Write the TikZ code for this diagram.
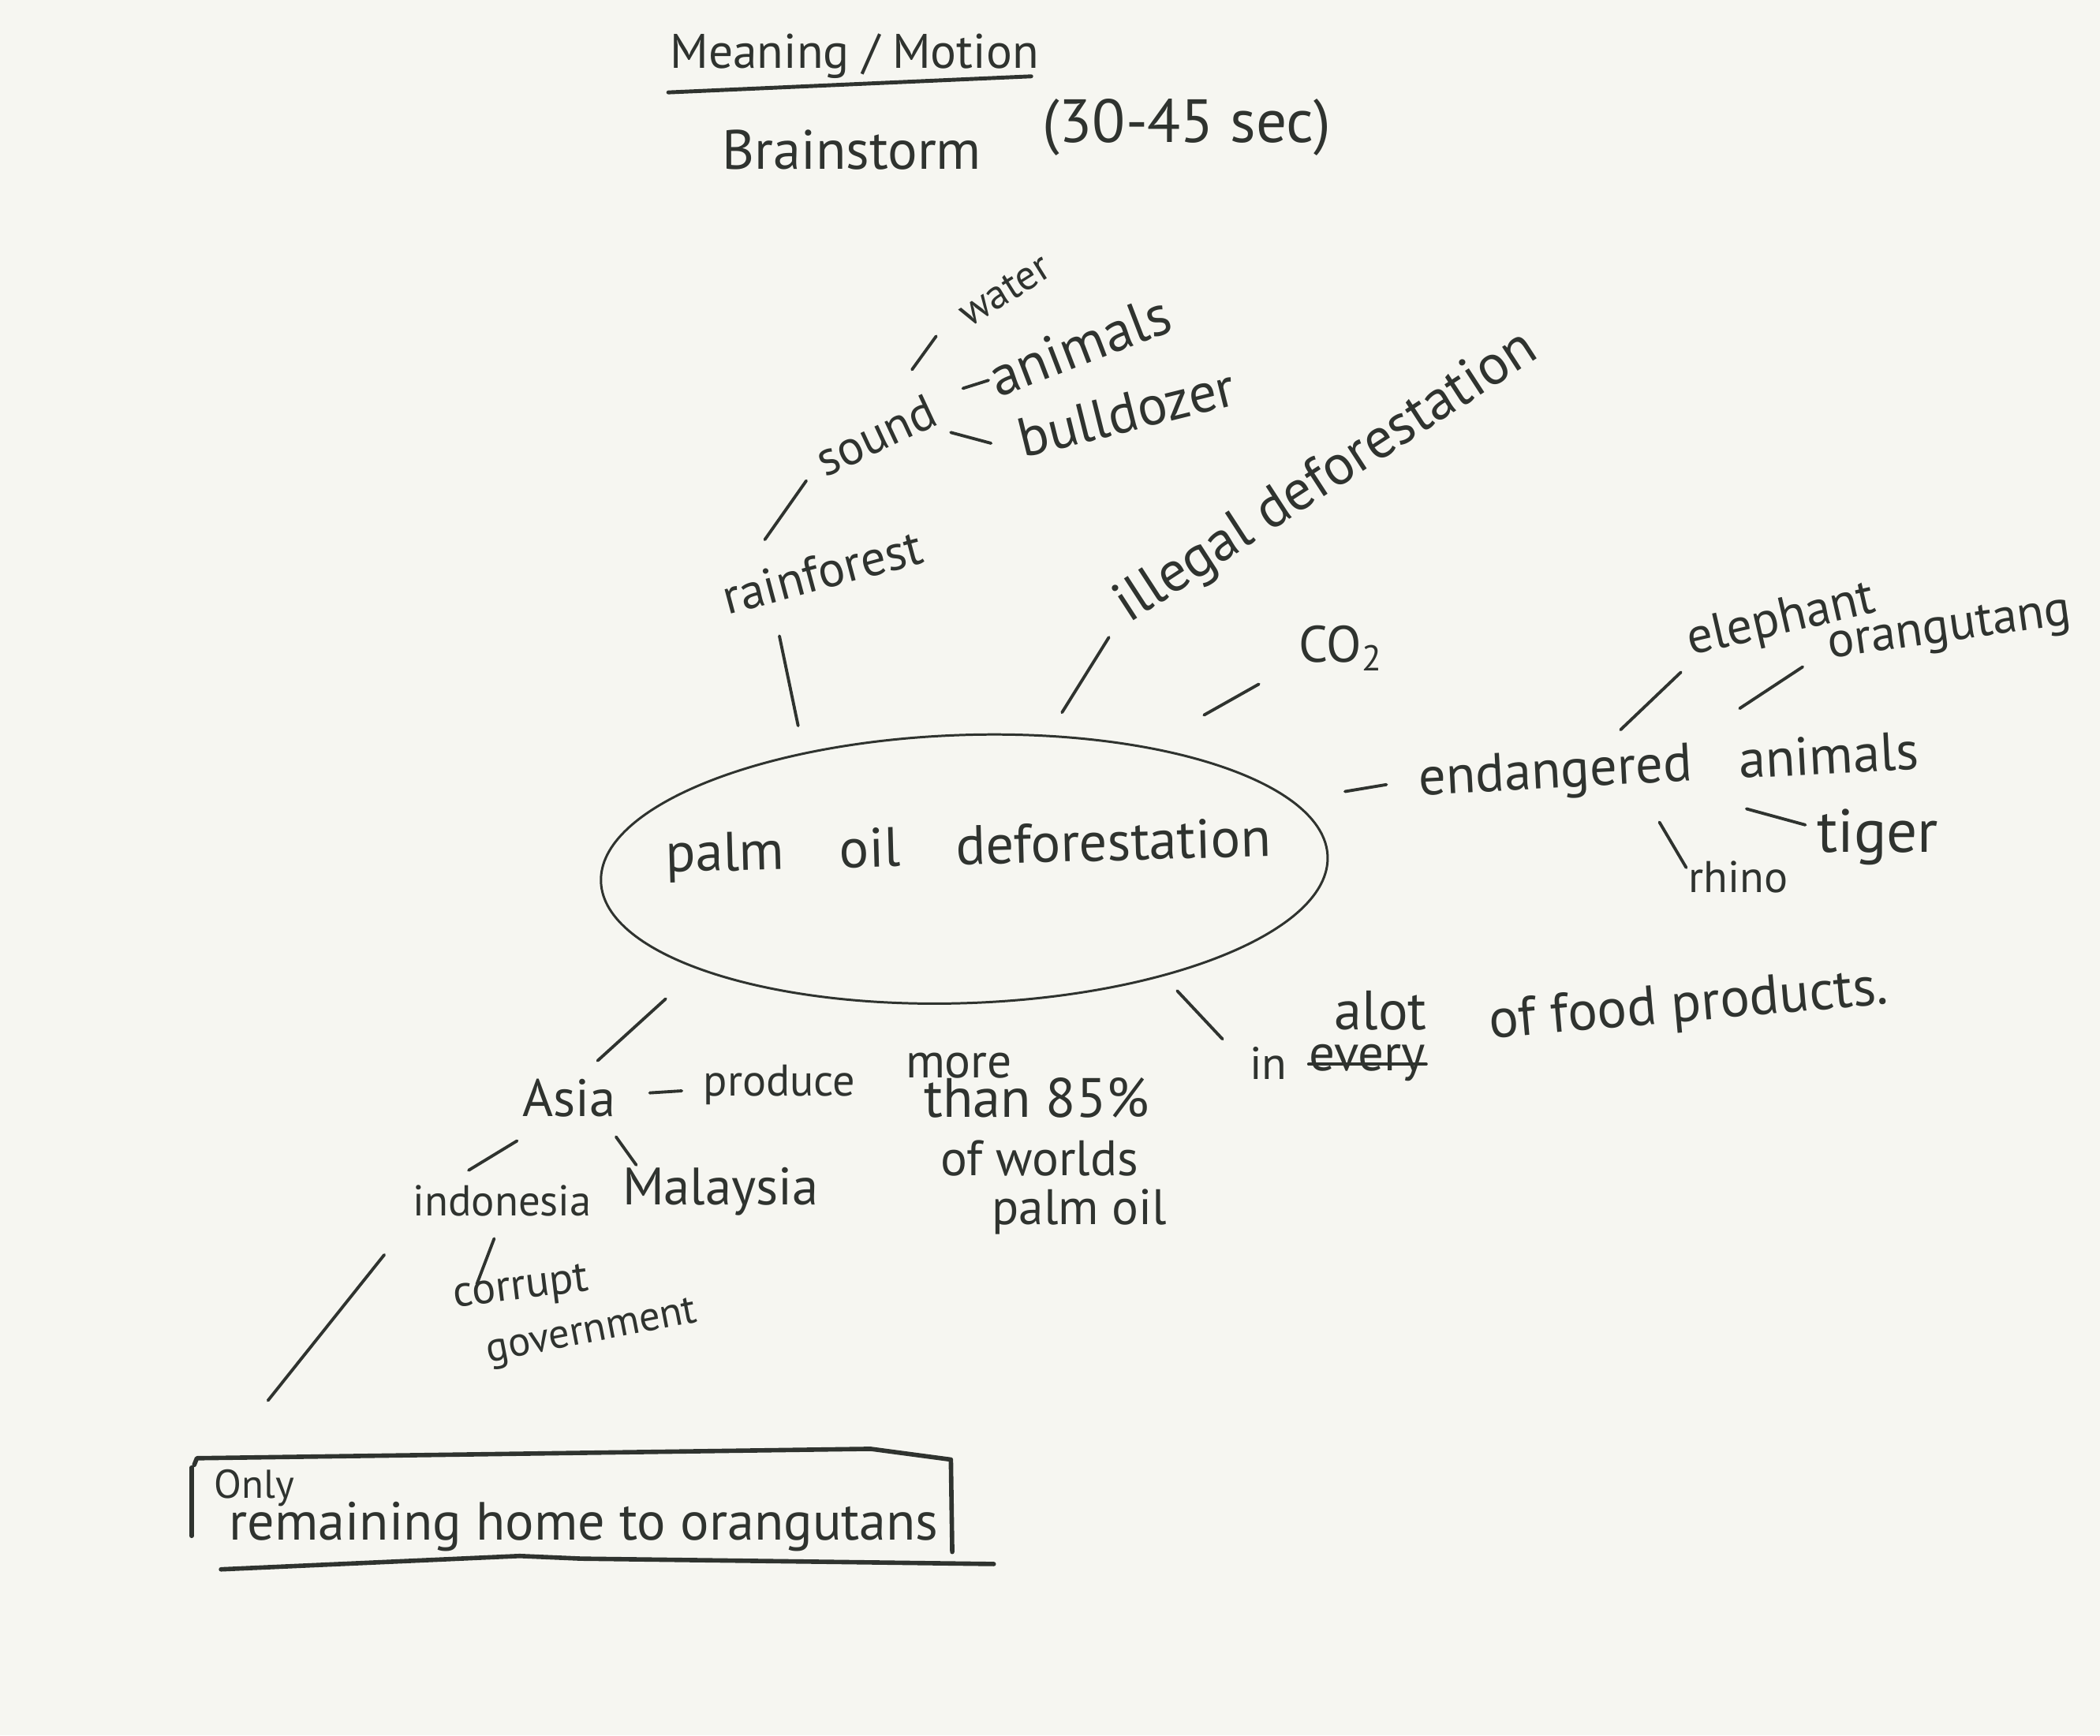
\documentclass[tikz,border=0pt]{standalone}
\usepackage{fontspec}
\setmainfont{PT Sans}
\usetikzlibrary{calc,shapes.geometric}
\definecolor{ink}{HTML}{2F332F}
\definecolor{paper}{HTML}{F6F6F1}
\begin{document}
\begin{tikzpicture}[x=0.016977cm, y=-0.016977cm, line cap=round, line join=round,
  word/.style={font=\fontsize{#1}{#1}\selectfont, text=ink, inner sep=0pt},
  word/.default=17,
  hub/.style={ellipse, draw=ink, line width=0.85pt, inner sep=0pt, minimum width=9.22cm, minimum height=3.40cm}]
\fill[paper] (0,0) rectangle (1568,1296);
\useasboundingbox (0,0) rectangle (1568,1296);
\begin{scope}
\node[word=17.5] (title) at (638,42) {Meaning / Motion};
\node[word=20] (brain) at (636,112) {Brainstorm};
\node[word=22] (dur) at (886,95) {(30-45 sec)};
\node[hub, rotate=2] (palm) at (720,649) {};
\node[word=20, rotate=1.5] (palmtxt) at (723,635) {palm\hspace{1em}oil\hspace{1em}deforestation};
\node[word=15, rotate=32] (water) at (750,217) {water};
\node[word=17.7, rotate=25] (sound) at (654,325) {sound};
\node[word=20.5, rotate=21] (animals) at (806,258) {animals};
\node[word=20, rotate=14] (bull) at (841,308) {bulldozer};
\node[word=18, rotate=15] (rain) at (614,427) {rainforest};
\node[word=20.5, rotate=33] (illegal) at (991,357) {illegal deforestation};
\node[word=18.5] (co2) at (1001,484) {CO\textsubscript{2}};
\node[word=19.5, rotate=3] (ea) at (1246,574) {endangered\hspace{0.6em} animals};
\node[word=18.3, rotate=13] (eleph) at (1330,464) {elephant};
\node[word=18, rotate=8] (orang) at (1456,471) {orangutang};
\node[word=16] (rhino) at (1298,655) {rhino};
\node[word=22] (tiger) at (1402,625) {tiger};
\node[word=20] (alot) at (1031,755) {alot};
\node[word=16.5] (inw) at (947,794) {in};
\node[word=18.5] (every) at (1021,794) {every};
\node[word=20, rotate=5] (food) at (1261,752) {of food products.};
\node[word=19] (asia) at (425,820) {Asia};
\node[word=16] (produce) at (582,810) {produce};
\node[word=17.5] (more) at (716,796) {more};
\node[word=20] (than) at (774,820) {than 85\%};
\node[word=18] (worlds) at (776,865) {of worlds};
\node[word=18] (poil) at (806,905) {palm oil};
\node[word=15.6] (indo) at (375,897) {indonesia};
\node[word=19] (malay) at (538,890) {Malaysia};
\node[word=16, rotate=7] (corrupt) at (389,963) {corrupt};
\node[word=15, rotate=11] (govt) at (442,996) {government};
\node[word=14.5] (only) at (190,1111) {Only};
\node[word=19.4] (home) at (436,1140) {remaining home to orangutans};
\end{scope}
\begin{scope}[every edge/.style={draw=ink, line width=1.1pt}]
% rainforest side
\draw ($(palm)!0.666!23.7:(rain)$) edge ($(palm)!0.903!12.9:(rain)$);
\draw ($(rain)!0.449!82.2:(sound)$) edge ($(rain)!0.630!31.4:(sound)$);
\draw ($(sound)!0.387!12.8:(water)$) edge ($(sound)!0.599!10.3:(water)$);
\draw ($(sound)!0.444!4.5:(animals)$) edge ($(sound)!0.563!2.2:(animals)$);
\draw ($(sound)!0.298!-3.1:(bull)$) edge ($(sound)!0.459!-9.2:(bull)$);
% off the ellipse
\draw ($(palm)!0.346!10.9:(illegal)$) edge ($(palm)!0.512!10.9:(illegal)$);
\draw ($(palm)!0.653!2.3:(co2)$) edge ($(palm)!0.797!1.7:(co2)$);
\draw ($(palm)!0.546!3.4:(ea)$) edge ($(palm)!0.605!3.2:(ea)$);
\draw ($(palm)!0.680!2.8:(inw)$) edge ($(palm)!0.857!-0.8:(inw)$);
\draw ($(palm)!0.713!-6.6:(asia)$) edge ($(palm)!0.906!-2.5:(asia)$);
% animals
\draw ($(ea)!0.334!88.5:(eleph)$) edge ($(ea)!0.524!30.2:(eleph)$);
\draw ($(ea)!0.297!14.2:(orang)$) edge ($(ea)!0.537!11.1:(orang)$);
\draw ($(ea)!0.422!-42.6:(rhino)$) edge ($(ea)!0.780!-22.7:(rhino)$);
\draw ($(ea)!0.398!-9.25:(tiger)$) edge ($(ea)!0.672!-4.3:(tiger)$);
% Asia
\draw ($(asia)!0.383!(produce)$) edge ($(asia)!0.535!(produce)$);
\draw ($(asia)!0.549!-17.6:(indo)$) edge ($(asia)!1.007!-21.3:(indo)$);
\draw ($(asia)!0.342!-7.9:(malay)$) edge ($(asia)!0.532!-13.2:(malay)$);
\draw ($(indo)!0.424!-24.1:(corrupt)$) edge ($(indo)!0.961!-29.0:(corrupt)$);
\draw ($(indo)!0.342!-24.7:(only)$) edge ($(indo)!0.812!-8.75:(only)$);
% crossed out word
\draw (every.mid west) edge (every.mid east);
\end{scope}
% underline and box
\draw[ink, line width=1.4pt] (499,69) -- (770,57);
\draw[ink, line width=1.6pt] (145,1094) -- (147,1089) -- (650,1082) -- (710,1090) -- (711,1159);
\draw[ink, line width=1.6pt] (143,1096) -- (143,1147);
\draw[ink, line width=1.6pt] (165,1172) -- (388,1162) -- (434,1164) -- (742,1168);
\end{tikzpicture}
\end{document}
